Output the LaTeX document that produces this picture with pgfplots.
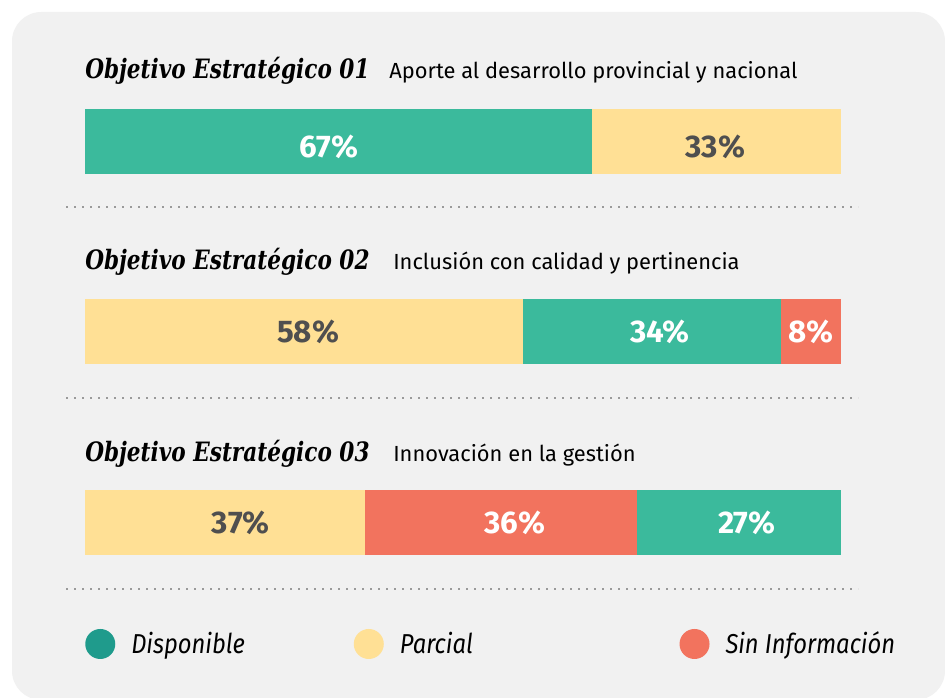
\documentclass[border=0pt]{standalone}
\usepackage{fontspec}
\setmainfont{Fira Sans}
\newfontfamily\titlefont{DejaVu Serif}
\usepackage{pgfplots}
\pgfplotsset{compat=1.18}
\definecolor{tealbar}{HTML}{3BBA9C}
\definecolor{yel}{HTML}{FFE095}
\definecolor{redbar}{HTML}{F2735E}
\definecolor{legteal}{HTML}{1F9B8C}
\definecolor{panel}{HTML}{F1F1F1}
\definecolor{darktxt}{HTML}{4F4F4F}
\definecolor{dotc}{HTML}{9A9A9A}
\pgfplotsset{
  rowaxis/.style={
    anchor=south west, scale only axis, width=567pt, height=48.75pt,
    xmin=0, xmax=100, ymin=-0.5, ymax=0.5, hide axis, clip=false,
    xbar stacked, bar width=48.75pt,
  },
  seg/.style n args={4}{fill=#1, draw=none,
    nodes near coords={#2},
    every node near coord/.append style={anchor=center, xshift=#3, yshift=#4,
      font=\fontsize{23.5}{23.5}\selectfont\bfseries, inner sep=0pt},
  },
}
\newcommand{\ttl}[1]{\scalebox{0.81}[1]{\titlefont\fontsize{20}{20}\selectfont\bfseries\itshape #1}}
\newcommand{\sub}[1]{{\fontsize{16.4}{16.4}\selectfont #1}}
\newcommand{\leg}[1]{\scalebox{0.87}[1]{\fontsize{20.5}{20.5}\selectfont\itshape #1}}
\begin{document}
\begin{tikzpicture}[x=0.75pt,y=0.75pt]
\useasboundingbox (0,0) rectangle (945,-698);
\fill[white] (0,0) rectangle (945,-698);
\fill[panel, rounded corners=22pt] (12,-12) rectangle (945,-700);
% titles
\node[anchor=base west, inner sep=0pt] at (85,-79) {\ttl{Objetivo Estratégico 01}};
\node[anchor=base west, inner sep=0pt] at (389,-79) {\sub{Aporte al desarrollo provincial y nacional}};
\node[anchor=base west, inner sep=0pt] at (85,-270) {\ttl{Objetivo Estratégico 02}};
\node[anchor=base west, inner sep=0pt] at (393,-270) {\sub{Inclusión con calidad y pertinencia}};
\node[anchor=base west, inner sep=0pt] at (85,-461) {\ttl{Objetivo Estratégico 03}};
\node[anchor=base west, inner sep=0pt] at (393,-461) {\sub{Innovación en la gestión}};
% dotted separators
\foreach \yy in {207,398,589}
  \draw[dotc, line width=1.8pt, dash pattern=on 1.8pt off 4.2pt] (66,-\yy) -- (858,-\yy);
% row 1
\begin{axis}[rowaxis, at={(63.75pt,-130.5pt)}]
\addplot[seg={tealbar}{\color{white}67\%}{-6.75pt}{-4pt}] coordinates {(67,0)};
\addplot[seg={yel}{\color{darktxt}33\%}{-0.75pt}{-4pt}] coordinates {(33,0)};
\end{axis}
% row 2
\begin{axis}[rowaxis, at={(63.75pt,-273pt)}]
\addplot[seg={yel}{\color{darktxt}58\%}{2.8pt}{0pt}] coordinates {(58,0)};
\addplot[seg={tealbar}{\color{white}34\%}{6pt}{0pt}] coordinates {(34,0)};
\addplot[seg={redbar}{\color{white}8\%}{0pt}{0pt}] coordinates {(8,0)};
\end{axis}
% row 3 + legend
\begin{axis}[rowaxis, at={(63.75pt,-416.25pt)},
  legend columns=3,
  legend image code/.code={\fill[#1] (11.25pt,0pt) circle (11.25pt); \path (0pt,-11.25pt) (34.5pt,11.25pt);},
  legend style={draw=none, fill=none, inner sep=0pt, anchor=west,
    at={(axis description cs:0,-1.369)},
    nodes={inner sep=0pt},
    column sep=0pt,
    /tikz/column 2/.style={column sep=81.75pt},
    /tikz/column 4/.style={column sep=155pt},
  },
]
\addlegendimage{fill=legteal, draw=none}
\addlegendentry{\leg{Disponible}}
\addlegendimage{fill=yel, draw=none}
\addlegendentry{\leg{Parcial}}
\addlegendimage{fill=redbar, draw=none}
\addlegendentry{\leg{Sin Información}}
\addplot[seg={yel}{\color{darktxt}37\%}{12pt}{0pt}, forget plot] coordinates {(37,0)};
\addplot[seg={redbar}{\color{white}36\%}{10.6pt}{0pt}, forget plot] coordinates {(36,0)};
\addplot[seg={tealbar}{\color{white}27\%}{6pt}{0pt}, forget plot] coordinates {(27,0)};
\end{axis}
\end{tikzpicture}
\end{document}
